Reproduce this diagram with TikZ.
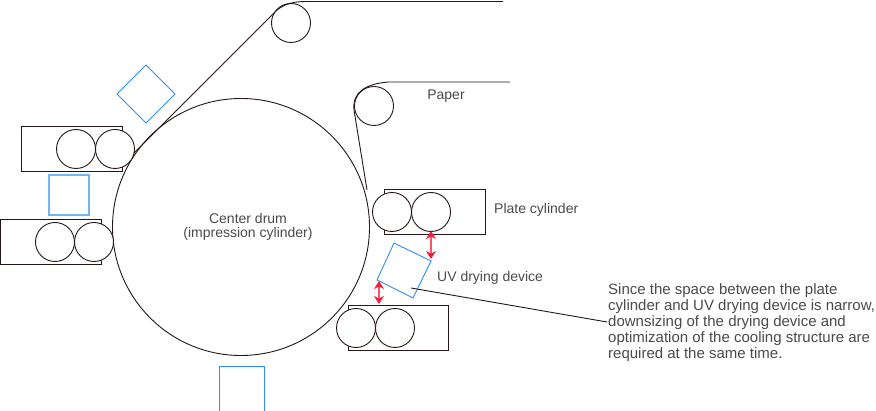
\documentclass[tikz,border=0pt]{standalone}
\usepackage{fontspec}
\setmainfont{Liberation Sans}
\usetikzlibrary{arrows.meta}
\definecolor{lineblk}{HTML}{231815}
\definecolor{uvblue}{HTML}{2B8FF0}
\definecolor{uvlight}{HTML}{74B6F5}
\definecolor{txt}{HTML}{4A4A4A}
\definecolor{redarr}{HTML}{F81C3C}
\tikzset{x=1pt,y=-1pt,
 roller/.style={circle,draw=lineblk,fill=white,line width=0.9pt,minimum size=39pt,inner sep=0pt,outer sep=0pt},
 drum/.style={circle,draw=lineblk,line width=0.9pt,minimum size=257pt,inner sep=0pt},
 housing/.style={draw=lineblk,line width=0.9pt,anchor=north west,inner sep=0pt,minimum width=100.5pt,minimum height=44.5pt},
 web/.style={draw=lineblk,line width=0.9pt},
 uv/.style={draw=uvblue,line width=0.9pt},
 gap/.style={draw=redarr!75!white,line width=1.2pt,{Stealth[length=8pt,width=10pt,color=redarr]}-{Stealth[length=8pt,width=10pt,color=redarr]}},
 lab/.style={text=txt,font=\fontsize{14}{16}\selectfont,inner sep=0pt}}
\begin{document}
\begin{tikzpicture}
\useasboundingbox (0,0) rectangle (876,411);
\node[housing] (h1) at (21,126.5) {};
\node[housing] (h2) at (0,219.5) {};
\node[housing] (h3) at (384,189.5) {};
\node[housing] (h4) at (347.5,305.5) {};
\node[drum] (d) at (241,227) {};
\node[roller] (r1) at (291,23) {};
\node[roller] (r2) at (374,106) {};
\node[roller] (a1) at (76,149) {};
\node[roller] (a2) at (115,149) {};
\node[roller] (b1) at (55,242) {};
\node[roller] (b2) at (94,242) {};
\node[roller] (c1) at (392,212) {};
\node[roller] (c2) at (431,212) {};
\node[roller] (e1) at (356,328) {};
\node[roller] (e2) at (395,328) {};
\coordinate (w1) at (134,153);
\coordinate (w2) at (276,11);
\coordinate (w3) at (503,1.5);
\coordinate (w4) at (510,82);
\coordinate (w5) at (354,110);
\coordinate (w6) at (367,190);
\draw[web] (w1) -- (w2) .. controls (288,0.5) and (300,1.5) .. (318,1.5) -- (w3);
\draw[web] (w4) -- (388,82) .. controls (366,84) and (352,92) .. (w5) -- (w6);
\draw[uv] (146,65) -- (175,94) -- (146,123) -- (117,94) -- cycle;
\draw[draw=uvlight,line width=1.1pt] (49,175) rectangle (89,215);
\draw[uv] (394,243) -- (431,261) -- (413,298) -- (377,280) -- cycle;
\draw[draw=uvblue,line width=0.9pt] (219.5,411) -- (219.5,366.5) -- (264.5,366.5) -- (264.5,411);
\coordinate (g1) at (431,231);
\coordinate (g2) at (431,259);
\coordinate (g3) at (379,281);
\coordinate (g4) at (379,304);
\draw[gap] (g1) -- (g2);
\draw[gap] (g3) -- (g4);
\coordinate (l1) at (411,288);
\node[lab,anchor=north west,align=left,font=\fontsize{15}{16.2}\selectfont] (note) at (608,283) {Since the space between the plate\\cylinder and UV drying device is narrow,\\downsizing of the drying device and\\optimization of the cooling structure are\\required at the same time.};
\coordinate (l2) at (607,322);
\draw[web] (l1) -- (l2);
\node[lab] (tc) at (248,227) {\begin{tabular}{@{}c@{}}Center drum\\[-2pt](impression cylinder)\end{tabular}};
\node[lab] (tp) at (446,96.5) {Paper};
\node[lab,anchor=west] (tq) at (494,209.5) {Plate cylinder};
\node[lab,anchor=west] (tu) at (437,277.5) {UV drying device};
\end{tikzpicture}
\end{document}
